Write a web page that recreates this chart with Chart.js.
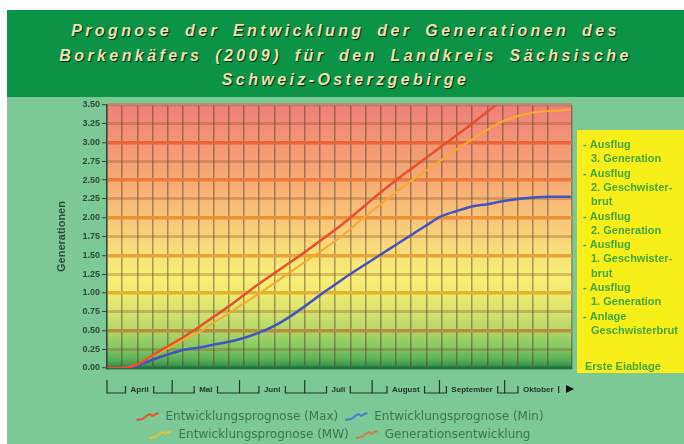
<!DOCTYPE html>
<html><head><meta charset="utf-8">
<script src="https://cdn.jsdelivr.net/npm/chart.js@4.4.0/dist/chart.umd.min.js"></script>
<style>
html,body{margin:0;padding:0;background:#fff;width:684px;height:444px;overflow:hidden;position:relative;}
#title{position:absolute;left:7px;top:10px;width:677px;height:87px;background:#0b9446;color:#ebe2b0;font:italic bold 16px "Liberation Sans",Arial,sans-serif;letter-spacing:3.4px;word-spacing:5px;text-align:center;line-height:24.5px;padding-top:9px;box-sizing:border-box;text-shadow:1px 1px 1px rgba(0,0,0,0.75);white-space:nowrap;}
#box{position:absolute;left:7px;top:97px;width:677px;height:354px;background:#7cc897;}
canvas{display:block;}
</style></head>
<body>
<div id="title">Prognose der Entwicklung der Generationen des<br>Borkenkäfers (2009) für den Landkreis Sächsische<br>Schweiz-Osterzgebirge</div>
<div id="box"><canvas id="c" width="677" height="354"></canvas></div>
<script>
// ---- data ----
const days = [0,7,14,21,28,35,42,49,56,63,70,77,84,91,98,105,112,119,126,133,140,147,154,161,168,175,182,189,196,203,210,213];
const maxSeries = [0,0,0.05,0.17,0.29,0.41,0.54,0.68,0.82,0.97,1.12,1.26,1.40,1.54,1.69,1.84,2.00,2.17,2.34,2.50,2.65,2.80,2.95,3.10,3.25,3.41,3.57,null,null,null,null,null];
const minSeries = [0,0,0.03,0.11,0.18,0.24,0.27,0.31,0.35,0.40,0.47,0.56,0.68,0.82,0.97,1.11,1.25,1.38,1.51,1.64,1.77,1.90,2.02,2.09,2.15,2.18,2.22,2.25,2.27,2.28,2.28,2.28];
const mwSeries = [0,0,0.05,0.16,0.26,0.37,0.47,0.60,0.73,0.86,0.99,1.13,1.27,1.41,1.55,1.69,1.85,2.02,2.18,2.34,2.49,2.63,2.77,2.91,3.04,3.17,3.28,3.35,3.40,3.42,3.43,3.44];
const genDays = [0,11];
const genSeries = [0,0];
const seriesNames = ["Entwicklungsprognose (Max)","Entwicklungsprognose (Min)","Entwicklungsprognose (MW)","Generationsentwicklung"];
const monthNames = ["April","Mai","Juni","Juli","August","September","Oktober"];
const monthStarts = [0,30,61,91,122,153,183,214];
const yTitle = "Generationen";
const stageTexts = [["- Ausflug","3. Generation"],["- Ausflug","2. Geschwister-","brut"],["- Ausflug","2. Generation"],["- Ausflug","1. Geschwister-","brut"],["- Ausflug","1. Generation"],["- Anlage","Geschwisterbrut"]];
const firstStage = "Erste Eiablage";

// ---- styling ----
const FONT = '"Liberation Sans", Arial, sans-serif';
const colors = ['#e8502a','#4353c2','#f6ab2c','#b8602e'];
function squiggle(col){
  const c = document.createElement('canvas'); c.width = 24; c.height = 12;
  const g = c.getContext('2d'); g.strokeStyle = col; g.lineWidth = 2; g.lineJoin='round';
  g.beginPath(); g.moveTo(1,9); g.lineTo(7,8); g.lineTo(11,5); g.lineTo(14,3); g.lineTo(17,5); g.lineTo(20,3); g.lineTo(23,2); g.stroke();
  return c;
}
const pts = (xs, ys) => xs.map((d,i)=>({x:d, y:ys[i]}));
const gradStops = [[3.5,'rgb(238,128,120)'],[3.0,'rgb(242,150,118)'],[2.5,'rgb(246,170,118)'],[2.0,'rgb(249,196,122)'],[1.5,'rgb(249,226,120)'],[1.2,'rgb(248,238,118)'],[1.0,'rgb(240,236,112)'],[0.75,'rgb(214,226,108)'],[0.5,'rgb(178,214,108)'],[0.25,'rgb(128,198,98)'],[0.1,'rgb(88,172,86)'],[0,'rgb(42,138,68)']];
const thick = {0:'#2c7d42',0.5:'#b8903a',1:'#e2b034',1.5:'#eaa437',2:'#eb9238',2.5:'#ec7c3c',3:'#e9663a',3.5:'rgba(200,100,90,0.5)'};

const bgPlugin = {
  id:'bg',
  beforeDraw(chart){
    const {ctx, chartArea:a, scales:{y}} = chart;
    const y0 = y.getPixelForValue(3.5), y1 = y.getPixelForValue(0);
    const g = ctx.createLinearGradient(0,y0,0,y1);
    gradStops.forEach(([v,c])=>g.addColorStop((3.5-v)/3.5,c));
    ctx.save(); ctx.fillStyle = g; ctx.fillRect(a.left,a.top,a.right-a.left,a.bottom-a.top); ctx.restore();
  },
  afterDraw(chart){
    const {ctx, chartArea:a, scales:{x, xm}} = chart;
    ctx.save();
    // month brackets
    ctx.strokeStyle = '#22362a'; ctx.lineWidth = 1.2;
    ctx.font = 'bold 8px ' + FONT;
    const baseY = xm.top + 23;
    for (let i=0;i<monthNames.length;i++){
      const s = x.getPixelForValue(monthStarts[i]), e = x.getPixelForValue(monthStarts[i+1]);
      const c = x.getPixelForValue((monthStarts[i]+monthStarts[i+1])/2);
      const w = ctx.measureText(monthNames[i]).width;
      const l = c - w/2 - 5, r = c + w/2 + 5;
      ctx.beginPath();
      ctx.moveTo(s, baseY-13); ctx.lineTo(s, baseY); ctx.lineTo(l, baseY); ctx.lineTo(l, baseY-7);
      if (i < monthNames.length-1){ ctx.moveTo(r, baseY-7); ctx.lineTo(r, baseY); ctx.lineTo(e, baseY); }
      else { ctx.moveTo(r, baseY-7); ctx.lineTo(r, baseY); }
      ctx.stroke();
    }
    const ex = x.getPixelForValue(monthStarts[monthStarts.length-1]);
    ctx.fillStyle = '#111'; ctx.beginPath(); ctx.moveTo(ex-6, baseY-8); ctx.lineTo(ex+2, baseY-4); ctx.lineTo(ex-6, baseY); ctx.closePath(); ctx.fill();
    // stage box
    const bx = a.right + 5, by = a.top + 25, bw = chart.width - bx, bh = a.bottom + 5 - by;
    ctx.fillStyle = '#f7ee1a'; ctx.fillRect(bx, by, bw, bh);
    ctx.fillStyle = '#45a83c'; ctx.font = 'bold 11px ' + FONT; ctx.textBaseline = 'middle';
    let yy = by + 15, lh = 14.3;
    stageTexts.forEach(lines => lines.forEach((t,j) => {
      ctx.fillText(t, bx + (j===0 ? 6 : 14), yy); yy += lh;
    }));
    ctx.fillText(firstStage, bx + 8, yy + lh*1.5);
    ctx.restore();
  }
};

new Chart(document.getElementById('c'), {
  type:'line',
  data:{ datasets:[
    {label:seriesNames[0], data:pts(days,maxSeries), borderColor:colors[0], borderWidth:2.5, pointStyle:squiggle(colors[0])},
    {label:seriesNames[1], data:pts(days,minSeries), borderColor:colors[1], borderWidth:2.5, pointStyle:squiggle('#3f7fd0')},
    {label:seriesNames[2], data:pts(days,mwSeries), borderColor:colors[2], borderWidth:2, pointStyle:squiggle('#e8c23a')},
    {label:seriesNames[3], data:pts(genDays,genSeries), borderColor:colors[3], borderWidth:2.5, pointStyle:squiggle('#d47a3a')}
  ]},
  options:{
    responsive:false, animation:false,
    elements:{ point:{radius:0}, line:{cubicInterpolationMode:'monotone', borderCapStyle:'round'} },
    layout:{ padding:{left:0, right:112, top:8, bottom:0} },
    plugins:{
      title:{display:false}, tooltip:{enabled:false},
      legend:{ position:'bottom', fullSize:false, align:'center',
        labels:{ usePointStyle:true, pointStyleWidth:24, padding:6, color:'#3f7550', font:{family:'"DejaVu Sans", sans-serif', size:12} } }
    },
    scales:{
      x:{ type:'linear', min:0, max:214,
        ticks:{ display:false, stepSize:7 },
        grid:{ color:'rgba(70,50,30,0.45)', lineWidth:1.5, drawTicks:false },
        border:{ color:'#2c6e3e', width:2 },
        afterFit:s=>{ s.height = 2; } },
      xm:{ type:'linear', position:'bottom', min:0, max:214,
        grid:{ display:false, drawTicks:false }, border:{display:false},
        afterBuildTicks:s=>{ s.ticks = monthNames.map((n,i)=>({value:(monthStarts[i]+monthStarts[i+1])/2})); },
        ticks:{ autoSkip:false, maxRotation:0, padding:15, color:'#22362a', font:{family:FONT, size:8, weight:'bold'},
          callback:(v,i)=>monthNames[i] },
        afterFit:s=>{ s.height = 35; } },
      y:{ min:0, max:3.5,
        ticks:{ stepSize:0.25, padding:2, color:'#2f4a38', font:{family:FONT, size:9, weight:'bold'}, callback:v=>v.toFixed(2) },
        grid:{ tickLength:5, tickColor:'#2f4a38', tickWidth:1,
          color:c=>{ const v=Math.round(c.tick.value*100)/100; return thick[v] !== undefined ? thick[v] : 'rgba(130,70,30,0.28)'; },
          lineWidth:c=>{ const v=Math.round(c.tick.value*100)/100; return (thick[v] !== undefined) ? 3.5 : 3; } },
        border:{ color:'#2c4a34', width:1.5 },
        title:{ display:true, text:yTitle, color:'#2f4a38', font:{family:FONT, size:11, weight:'bold'}, padding:{top:48, bottom:0} },
        afterFit:s=>{ s.width = 100; } }
    }
  },
  plugins:[bgPlugin]
});
</script>
</body></html>
